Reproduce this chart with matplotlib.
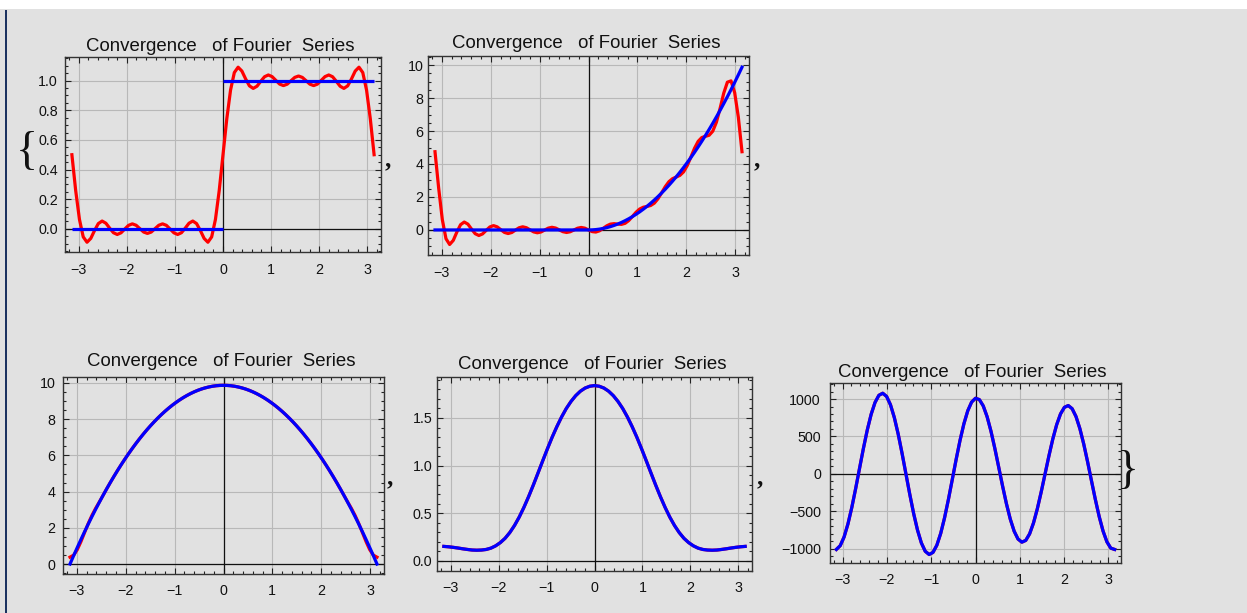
import numpy as np
import matplotlib
matplotlib.use("Agg")
import matplotlib.pyplot as plt
from matplotlib.patches import Rectangle
from matplotlib.ticker import MultipleLocator, FuncFormatter

W, H = 1247, 613
TITLE = "Convergence   of Fourier  Series"
BG = "#e1e1e1"

# ---------------- data ----------------
# Panel 1: step function and its partial Fourier sum (81 samples, -pi..pi)
red1 = [0.5, 0.2583, 0.0632, -0.0550, -0.0911, -0.0651, -0.0114, 0.0350, 0.0521, 0.0373,
        0.0041, -0.0267, -0.0386, -0.0274, -0.0018, 0.0231, 0.0331, 0.0235, 0.0005, -0.0222,
        -0.0315, -0.0222, 0.0005, 0.0235, 0.0331, 0.0231, -0.0018, -0.0274, -0.0386, -0.0267,
        0.0041, 0.0373, 0.0521, 0.0350, -0.0114, -0.0651, -0.0911, -0.0550, 0.0632, 0.2583,
        0.5,
        0.7417, 0.9368, 1.0550, 1.0911, 1.0651, 1.0114, 0.9650, 0.9479, 0.9627, 0.9959,
        1.0267, 1.0386, 1.0274, 1.0018, 0.9769, 0.9669, 0.9765, 0.9995, 1.0222, 1.0315,
        1.0222, 0.9995, 0.9765, 0.9669, 0.9769, 1.0018, 1.0274, 1.0386, 1.0267, 0.9959,
        0.9627, 0.9479, 0.9650, 1.0114, 1.0651, 1.0911, 1.0550, 0.9368, 0.7417, 0.5]
blue1_levels = [0.0, 1.0]
blue1_edges = [-np.pi, 0.0, np.pi]

# Panel 2: 0 / x^2 function and its partial sum (85 samples, -pi..pi)
red2 = [4.745, 2.538, 0.628, -0.531, -0.883, -0.632, -0.117, 0.320, 0.479, 0.352,
        0.051, -0.228, -0.337, -0.243, -0.026, 0.180, 0.262, 0.189, 0.016, -0.151,
        -0.218, -0.157, -0.011, 0.132, 0.190, 0.136, 0.008, -0.119, -0.172, -0.124,
        -0.006, 0.111, 0.160, 0.115, 0.004, -0.106, -0.153, -0.110, -0.004, 0.104,
        0.150, 0.108, 0.000,
        -0.102, -0.128, -0.054, 0.094, 0.250, 0.354, 0.380, 0.354, 0.338, 0.400,
        0.566, 0.812, 1.070, 1.269, 1.378, 1.424, 1.481, 1.623, 1.888, 2.249,
        2.624, 2.926, 3.111, 3.207, 3.308, 3.520, 3.899, 4.412, 4.948, 5.373,
        5.605, 5.678, 5.741, 5.989, 6.534, 7.368, 8.292, 8.962, 9.041, 8.324,
        6.841, 4.745]
blue2 = [0.0] * 42 + [
        0.000, 0.006, 0.022, 0.050, 0.090, 0.140, 0.201, 0.274, 0.358, 0.453,
        0.560, 0.677, 0.806, 0.946, 1.097, 1.259, 1.432, 1.617, 1.813, 2.020,
        2.238, 2.467, 2.708, 2.960, 3.223, 3.497, 3.782, 4.079, 4.386, 4.705,
        5.036, 5.377, 5.729, 6.093, 6.468, 6.854, 7.251, 7.660, 8.079, 8.510,
        8.952, 9.405, 9.870]

# Panel 3: pi^2 - x^2 and its partial sum (85 samples)
blue3 = [0.000, 0.465, 0.918, 1.360, 1.791, 2.210, 2.619, 3.016, 3.402, 3.777,
         4.141, 4.493, 4.834, 5.165, 5.484, 5.791, 6.088, 6.373, 6.647, 6.910,
         7.162, 7.403, 7.632, 7.850, 8.057, 8.253, 8.438, 8.611, 8.773, 8.924,
         9.064, 9.193, 9.310, 9.417, 9.512, 9.596, 9.669, 9.730, 9.780, 9.820,
         9.848, 9.864, 9.870, 9.864, 9.848,
         9.820, 9.780, 9.730, 9.669, 9.596, 9.512, 9.417, 9.310, 9.193, 9.064,
         8.924, 8.773, 8.611, 8.438, 8.253, 8.057, 7.850, 7.632, 7.403, 7.162,
         6.910, 6.647, 6.373, 6.088, 5.791, 5.484, 5.165, 4.834, 4.493, 4.141,
         3.777, 3.402, 3.016, 2.619, 2.210, 1.791, 1.360, 0.918, 0.465, 0.000]
red3 = [0.380, 0.491, 0.798, 1.242, 1.747, 2.241, 2.686, 3.072, 3.418, 3.777,
        4.141, 4.493, 4.834, 5.165, 5.484, 5.791, 6.088, 6.373, 6.647, 6.910,
        7.162, 7.403, 7.632, 7.850, 8.057, 8.253, 8.438, 8.611, 8.773, 8.924,
        9.064, 9.193, 9.310, 9.417, 9.512, 9.596, 9.669, 9.730, 9.780, 9.820,
        9.848, 9.864, 9.870, 9.864, 9.848,
        9.820, 9.780, 9.730, 9.669, 9.596, 9.512, 9.417, 9.310, 9.193, 9.064,
        8.924, 8.773, 8.611, 8.438, 8.253, 8.057, 7.850, 7.632, 7.403, 7.162,
        6.910, 6.647, 6.373, 6.088, 5.791, 5.484, 5.165, 4.834, 4.493, 4.141,
        3.777, 3.418, 3.072, 2.686, 2.241, 1.747, 1.242, 0.798, 0.491, 0.380]

# Panel 4: bell-shaped curve (65 samples)
blue4 = [0.153, 0.149, 0.143, 0.136, 0.128, 0.121, 0.115, 0.113, 0.115, 0.121,
         0.135, 0.159, 0.193, 0.238, 0.298, 0.372, 0.460, 0.562, 0.675, 0.796,
         0.923, 1.051, 1.177, 1.298, 1.409, 1.510, 1.599, 1.673, 1.734, 1.781,
         1.814, 1.833, 1.840, 1.833, 1.814, 1.781, 1.734, 1.673, 1.599, 1.510,
         1.409, 1.298, 1.177, 1.051, 0.923, 0.796, 0.675, 0.562, 0.460, 0.372,
         0.298, 0.238, 0.193, 0.159, 0.135, 0.121, 0.115, 0.113, 0.115, 0.121,
         0.128, 0.136, 0.143, 0.149, 0.153]
red4 = list(blue4)

# Panel 5: oscillating curve (73 samples)
blue5 = [-1010, -959.4, -843.3, -669.3, -448.3, -195.1, 73.6, 339.9, 585.9, 795.0,
         953.2, 1049.5, 1077.3, 1034.5, 923.7, 752.0, 530.8, 274.4, 0.0, -274.4,
         -530.8, -752.0, -923.7, -1034.5, -1077.3, -1049.5, -953.2, -795.0, -585.9, -339.9,
         -73.6, 195.1, 448.3, 669.3, 843.3, 959.4, 1010, 992.4, 908.3, 764.3,
         570.5, 340.7, 91.0, -161.3, -398.7, -605.0, -766.0, -870.9, -912.7, -888.9,
         -801.5, -657.0, -465.8, -241.4, 0.0, 241.4, 465.8, 657.0, 801.5, 888.9,
         912.7, 870.9, 766.0, 605.0, 398.7, 161.3, -91.0, -340.7, -570.5, -764.3,
         -908.3, -992.4, -1010]
red5 = list(blue5)

# ---------------- figure ----------------
plt.rcParams['font.family'] = ['Liberation Sans', 'DejaVu Sans']
fig = plt.figure(figsize=(W / 100, H / 100), dpi=100, facecolor=BG)
fig.patches.append(Rectangle((0, 1 - 9 / H), 1, 9 / H, transform=fig.transFigure,
                             facecolor='white', edgecolor='none', zorder=0))
fig.patches.append(Rectangle((5 / W, 0), 2.2 / W, (H - 10) / H, transform=fig.transFigure,
                             facecolor='#1c3260', edgecolor='none', zorder=0))

RED = '#ff0000'
BLUE = '#0000ff'


def fmt_factory(dec):
    def f(v, pos):
        s = f"{v:.{dec}f}"
        if s.startswith('-') and float(s) == 0:
            s = s[1:]
        return s.replace('-', '\u2212')
    return FuncFormatter(f)


def make_ax(box, ylim, ymaj, ymin, ydec, ypad, xpad):
    l, t, r, b = box
    ax = fig.add_axes([l / W, 1 - b / H, (r - l) / W, (b - t) / H])
    ax.set_facecolor('none')
    ax.set_xlim(-3.285, 3.285)
    ax.set_ylim(*ylim)
    ax.xaxis.set_major_locator(MultipleLocator(1))
    ax.xaxis.set_minor_locator(MultipleLocator(0.2))
    ax.yaxis.set_major_locator(MultipleLocator(ymaj))
    ax.yaxis.set_minor_locator(MultipleLocator(ymin))
    ax.xaxis.set_major_formatter(fmt_factory(0))
    ax.yaxis.set_major_formatter(fmt_factory(ydec))
    ax.tick_params(which='both', direction='in', top=True, right=True, colors='#222222',
                   labelcolor='#111111', width=0.8)
    ax.tick_params(which='major', length=4.3, labelsize=10.3)
    ax.tick_params(which='minor', length=2.3)
    ax.tick_params(axis='y', which='major', pad=ypad)
    ax.tick_params(axis='x', which='major', pad=xpad)
    for s in ax.spines.values():
        s.set_color('#333333')
        s.set_linewidth(1.0)
    ax.grid(True, which='major', color='#b8b8b8', linewidth=0.8)
    ax.set_axisbelow(True)
    ax.axhline(0, color='#111111', linewidth=0.9, zorder=1.5)
    ax.axvline(0, color='#111111', linewidth=0.9, zorder=1.5)
    return ax


LW = 2.3

# Panel 1
ax1 = make_ax((65, 57, 381, 252), (-0.157, 1.16), 0.2, 0.05, 1, 5.0, 8.0)
x1 = np.linspace(-np.pi, np.pi, len(red1))
ax1.plot(x1, red1, color=RED, lw=LW, zorder=3)
for i, lev in enumerate(blue1_levels):
    ax1.plot([blue1_edges[i], blue1_edges[i + 1]], [lev, lev], color=BLUE, lw=LW,
             zorder=4, solid_capstyle='butt')

# Panel 2
ax2 = make_ax((428, 56, 749, 255), (-1.52, 10.55), 2, 0.5, 0, 3.3, 8.0)
x2 = np.linspace(-np.pi, np.pi, len(red2))
ax2.plot(x2, red2, color=RED, lw=LW, zorder=3)
ax2.plot(x2, blue2, color=BLUE, lw=LW, zorder=4)

# Panel 3
ax3 = make_ax((63, 377, 384, 574), (-0.55, 10.33), 2, 0.5, 0, 5.5, 7.0)
x3 = np.linspace(-np.pi, np.pi, len(red3))
ax3.plot(x3, red3, color=RED, lw=LW, zorder=3)
ax3.plot(x3, blue3, color=BLUE, lw=LW, zorder=4)

# Panel 4
ax4 = make_ax((437, 377, 752, 571), (-0.105, 1.93), 0.5, 0.1, 1, 3.3, 7.5)
x4 = np.linspace(-np.pi, np.pi, len(red4))
ax4.plot(x4, red4, color=RED, lw=LW, zorder=3)
ax4.plot(x4, blue4, color=BLUE, lw=LW, zorder=4)

# Panel 5
ax5 = make_ax((830, 383, 1121, 563), (-1191, 1214), 500, 100, 0, 6.5, 7.5)
x5 = np.linspace(-np.pi, np.pi, len(red5))
ax5.plot(x5, red5, color=RED, lw=LW, zorder=3)
ax5.plot(x5, blue5, color=BLUE, lw=LW, zorder=4)

# titles (fig coordinates, baseline)
for cx, base in [(220, 51), (586, 48), (221, 366), (592, 369), (972, 377)]:
    fig.text(cx / W, 1 - base / H, TITLE, ha='center', va='baseline',
             fontsize=13.4, color='#111111')

# commas and braces
SERIF = ['Liberation Serif', 'DejaVu Serif']
for cx, cy in [(388, 160), (757, 160), (390, 478), (760, 478)]:
    fig.text(cx / W, 1 - cy / H, ",", ha='center', va='center', fontsize=18,
             family=SERIF, fontweight='bold', color='#111111')
fig.text(27 / W, 1 - 153 / H, "{", ha='center', va='center', fontsize=33,
         family=SERIF, color='#111111')
fig.text(1128 / W, 1 - 472 / H, "}", ha='center', va='center', fontsize=33,
         family=SERIF, color='#111111')

fig.savefig('out.png', dpi=100, facecolor=fig.get_facecolor())
